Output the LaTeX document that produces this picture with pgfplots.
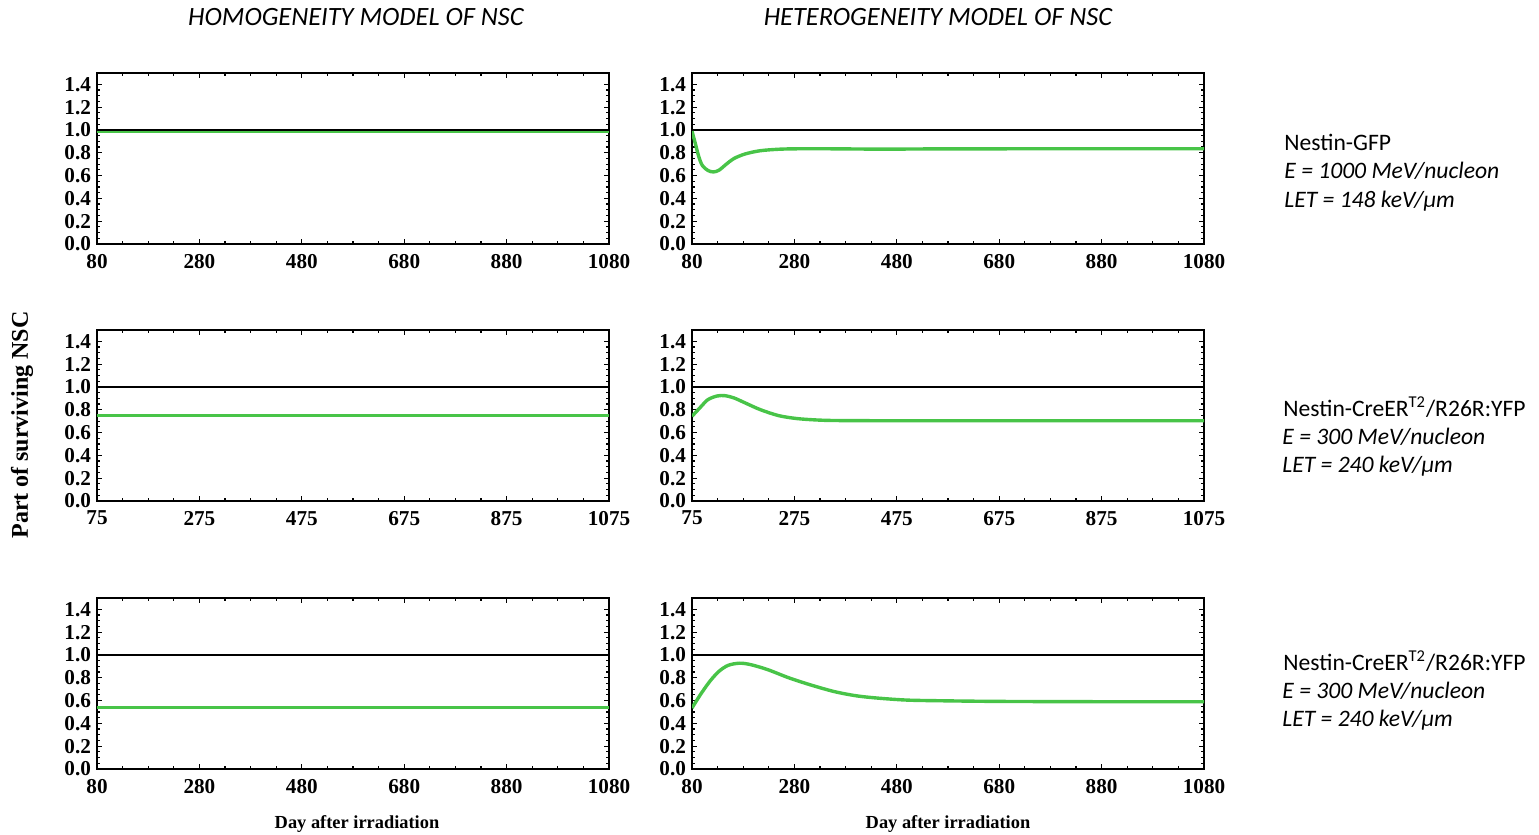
\documentclass[border=0pt]{standalone}
\usepackage{pgfplots}
\pgfplotsset{compat=1.18}
\usepackage{fontspec}
\setmainfont{Liberation Serif}
\newfontfamily\calibri{Carlito}
\definecolor{lgreen}{RGB}{72,196,72}
\pgfplotsset{
  panel/.style={
    scale only axis, width=256pt, height=85.5pt,
    anchor=south west,
    ymin=0, ymax=1.5,
    ytick={0,0.2,0.4,0.6,0.8,1.0,1.2,1.4},
    minor y tick num=3,
    minor x tick num=3,
    axis line style={line width=1.2pt},
    tick style={black, line width=0.6pt},
    major tick length=2.5pt, minor tick length=1.3pt,
    tick align=inside,
    /pgf/number format/assume math mode=true,
    tick label style={font=\fontsize{10.6}{12}\selectfont\bfseries},
    xticklabel style={yshift=-1.5pt, /pgf/number format/.cd, 1000 sep={}},
    yticklabel style={xshift=0.5pt, /pgf/number format/.cd, fixed, fixed zerofill, precision=1},
    clip=true,
  },
  panelA/.style={panel, xmin=80, xmax=1080, xtick={80,280,480,680,880,1080}},
  panelB/.style={panel, xmin=75, xmax=1075, xtick={75,275,475,675,875,1075}},
  gline/.style={lgreen, line width=1.7pt},
  kline/.style={black, line width=1.3pt},
}
\begin{document}
\begin{tikzpicture}
\useasboundingbox (0,0) rectangle (769.5pt,417.5pt);

% Row 1
\begin{axis}[panelA, at={(48.5pt,295.5pt)}]
\addplot[gline] coordinates {(80,0.985)(1080,0.985)};
\addplot[kline] coordinates {(80,1.0)(1080,1.0)};
\end{axis}
\begin{axis}[panelA, at={(346pt,295.5pt)}]
\addplot[kline] coordinates {(80,1.0)(1080,1.0)};
\addplot[gline, smooth] coordinates {(80,0.99)(86,0.89)(93,0.77)(100,0.69)(111,0.645)(122,0.632)(133,0.648)(147,0.70)(162,0.75)(184,0.79)(213,0.818)(249,0.831)(285,0.835)(350,0.835)(450,0.832)(550,0.834)(700,0.835)(900,0.835)(1080,0.835)};
\end{axis}

% Row 2
\begin{axis}[panelB, at={(48.5pt,167pt)}]
\addplot[kline] coordinates {(75,1.0)(1075,1.0)};
\addplot[gline] coordinates {(75,0.75)(1075,0.75)};
\end{axis}
\begin{axis}[panelB, at={(346pt,167pt)}]
\addplot[kline] coordinates {(75,1.0)(1075,1.0)};
\addplot[gline, smooth] coordinates {(75,0.743)(92,0.825)(106,0.889)(124,0.921)(139,0.924)(157,0.904)(179,0.86)(208,0.802)(244,0.749)(280,0.723)(317,0.711)(353,0.706)(450,0.704)(600,0.704)(800,0.704)(1075,0.704)};
\end{axis}

% Row 3
\begin{axis}[panelA, at={(48.5pt,33pt)}]
\addplot[kline] coordinates {(80,1.0)(1080,1.0)};
\addplot[gline] coordinates {(80,0.537)(1080,0.537)};
\end{axis}
\begin{axis}[panelA, at={(346pt,33pt)}]
\addplot[kline] coordinates {(80,1.0)(1080,1.0)};
\addplot[gline, smooth] coordinates {(80,0.535)(97,0.656)(115,0.77)(133,0.858)(151,0.91)(173,0.928)(194,0.916)(227,0.873)(269,0.80)(312,0.737)(358,0.679)(401,0.642)(445,0.621)(502,0.604)(574,0.598)(646,0.594)(718,0.592)(900,0.590)(1080,0.590)};
\end{axis}

% Titles
\node[font=\calibri\itshape\fontsize{13.2}{15}\selectfont] at (178pt,409pt) {HOMOGENEITY MODEL OF NSC};
\node[font=\calibri\itshape\fontsize{13.2}{15}\selectfont] at (469pt,409pt) {HETEROGENEITY MODEL OF NSC};

% Axis labels
\node[font=\bfseries\fontsize{12}{14}\selectfont, rotate=90] at (11pt,205pt) {Part of surviving NSC};
\node[font=\bfseries\fontsize{9.2}{11}\selectfont] at (178.5pt,5.5pt) {Day after irradiation};
\node[font=\bfseries\fontsize{9.2}{11}\selectfont] at (474pt,5.5pt) {Day after irradiation};

% Annotations
\begin{scope}[every node/.style={anchor=mid west, inner sep=0pt, font=\calibri\fontsize{11.8}{14}\selectfont}]
\node at (642pt,344.5pt) {Nestin-GFP};
\node at (642pt,330.5pt) {\itshape E = 1000 MeV/nucleon};
\node at (642pt,316pt) {\itshape LET = 148 keV/μm};

\node at (641.5pt,211.5pt) {Nestin-CreER\textsuperscript{T2}/R26R:YFP};
\node at (641pt,197.5pt) {\itshape E = 300 MeV/nucleon};
\node at (641pt,183.5pt) {\itshape LET = 240 keV/μm};

\node at (641.5pt,84.5pt) {Nestin-CreER\textsuperscript{T2}/R26R:YFP};
\node at (641pt,70.5pt) {\itshape E = 300 MeV/nucleon};
\node at (641pt,56.5pt) {\itshape LET = 240 keV/μm};
\end{scope}
\end{tikzpicture}
\end{document}
